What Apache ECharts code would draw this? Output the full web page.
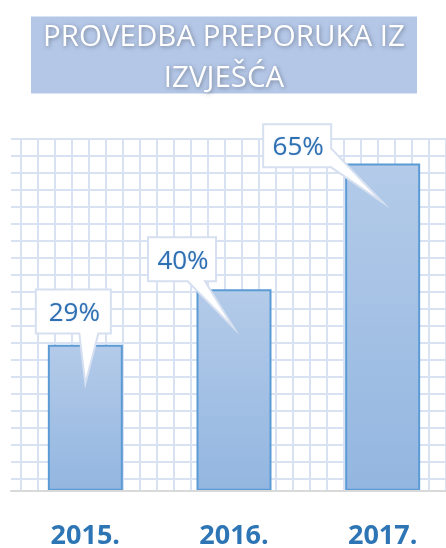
<!DOCTYPE html>
<html>
<head>
<meta charset="utf-8">
<title>Provedba preporuka iz izvješća</title>
<script src="https://cdn.jsdelivr.net/npm/echarts@6.0.0/dist/echarts.min.js"></script>
<style>
  html, body { margin: 0; padding: 0; background: #fff; }
  #chart { width: 446px; height: 548px; }
</style>
</head>
<body>
<div id="chart"></div>
<script>
const categories = ["2015.", "2016.", "2017."];
const values = [29, 40, 65];
const valueLabels = ["29%", "40%", "65%"];

// callout boxes: offset of box centre from bar top, then width / height
const calloutBoxes = [[-12, -33.3, 75, 44], [-52, -30, 68, 44], [-85.5, -17.6, 68, 43]];
// where the pointer leaves the box (relative to box centre)
const calloutPointers = [
  { side: "bottom", from: 6, to: 25 },
  { side: "bottom", from: 5.7, to: 23 },
  { side: "right", from: 2.6, to: 21.5 },
];
const pointerDepth = 39;

const gridLine = { lineStyle: { color: "#d9e2f3", width: 2 } };

const chart_box = document.getElementById("chart");
const chart = echarts.init(chart_box);

function renderCallout(params, api) {
  const i = params.dataIndex;
  const p = api.coord([api.value(0), api.value(1)]);
  const b = calloutBoxes[i];
  const cx = p[0] + b[0];
  const cy = p[1] + b[1];
  const L = cx - b[2] / 2, R = cx + b[2] / 2, T = cy - b[3] / 2, B = cy + b[3] / 2;
  const tip = [p[0], p[1] + pointerDepth];
  const ptr = calloutPointers[i];
  let points;
  if (ptr.side === "bottom") {
    points = [[L, T], [R, T], [R, B], [cx + ptr.to, B], tip, [cx + ptr.from, B], [L, B]];
  } else {
    points = [[L, T], [R, T], [R, cy + ptr.from], tip, [R, cy + ptr.to], [R, B], [L, B]];
  }
  return {
    type: "group",
    children: [
      {
        type: "polygon",
        shape: { points: points },
        style: { fill: "#ffffff", stroke: "#d6e0f0", lineWidth: 2 },
      },
      {
        type: "text",
        style: {
          text: valueLabels[i],
          x: cx + 1,
          y: cy + 2,
          align: "center",
          verticalAlign: "middle",
          fontFamily: "Open Sans",
          fontSize: 26,
          fill: "#2f70b3",
          textShadowColor: "rgba(47,112,179,0.25)",
          textShadowBlur: 2,
        },
      },
    ],
  };
}

chart.setOption({
  backgroundColor: "#ffffff",
  animation: false,
  title: {
    text: "{a|PROVEDBA PREPORUKA IZ}\n{a|IZVJEŠĆA}",
    left: 31,
    top: 11,
    padding: [6, 0, 0, 0],
    backgroundColor: "#b4c7e7",
    textStyle: {
      fontWeight: "normal",
      rich: {
        a: {
          width: 386,
          align: "center",
          lineHeight: 41,
          color: "#ffffff",
          fontFamily: "Open Sans",
          fontWeight: "normal",
          fontSize: 29.5,
          textShadowColor: "rgba(0,0,0,0.35)",
          textShadowBlur: 4,
          textShadowOffsetX: 1,
          textShadowOffsetY: 1,
        },
      },
    },
  },
  grid: [
    { left: 11, width: 446, top: 138.3, bottom: 57.3, outerBoundsMode: "none" },
    { left: 11, right: 0, top: 138.3, bottom: 57.3, outerBoundsMode: "none" },
    { left: 20.7, right: 0, top: 138.3, bottom: 57.3, outerBoundsMode: "none" },
  ],
  xAxis: [
    {
      type: "category",
      gridIndex: 0,
      data: categories,
      axisLine: { lineStyle: { color: "#d9d9d9", width: 2 } },
      axisTick: { show: false },
      axisLabel: {
        margin: 32,
        color: "#2e75b6",
        fontFamily: "Open Sans",
        fontWeight: "bold",
        fontSize: 27,
      },
      z: 5,
    },
    { type: "value", gridIndex: 1, show: false, min: 0, max: 1 },
    {
      type: "value",
      gridIndex: 2,
      min: 0,
      max: 425.3,
      interval: 17,
      axisLine: { show: false },
      axisTick: { show: false },
      axisLabel: { show: false },
      splitLine: gridLine,
    },
  ],
  yAxis: [
    { type: "value", gridIndex: 0, min: 0, max: 70, show: false },
    {
      type: "value",
      gridIndex: 1,
      min: 0,
      max: 352.4,
      interval: 17,
      inverse: true,
      axisLine: { show: false },
      axisTick: { show: false },
      axisLabel: { show: false },
      splitLine: gridLine,
    },
    { type: "value", gridIndex: 2, show: false, min: 0, max: 1 },
  ],
  series: [
    {
      type: "bar",
      xAxisIndex: 0,
      yAxisIndex: 0,
      data: values,
      barWidth: 75,
      itemStyle: {
        color: {
          type: "linear", x: 0, y: 0, x2: 0, y2: 1,
          colorStops: [
            { offset: 0, color: "#b4cbe9" },
            { offset: 1, color: "#93b6e0" },
          ],
        },
        borderColor: "#5b9bd5",
        borderWidth: 2,
      },
      z: 3,
    },
    {
      type: "custom",
      xAxisIndex: 0,
      yAxisIndex: 0,
      data: values.map((v, i) => [i, v]),
      renderItem: renderCallout,
      z: 10,
    },
  ],
});

window.addEventListener("resize", () => chart.resize());
</script>
</body>
</html>
